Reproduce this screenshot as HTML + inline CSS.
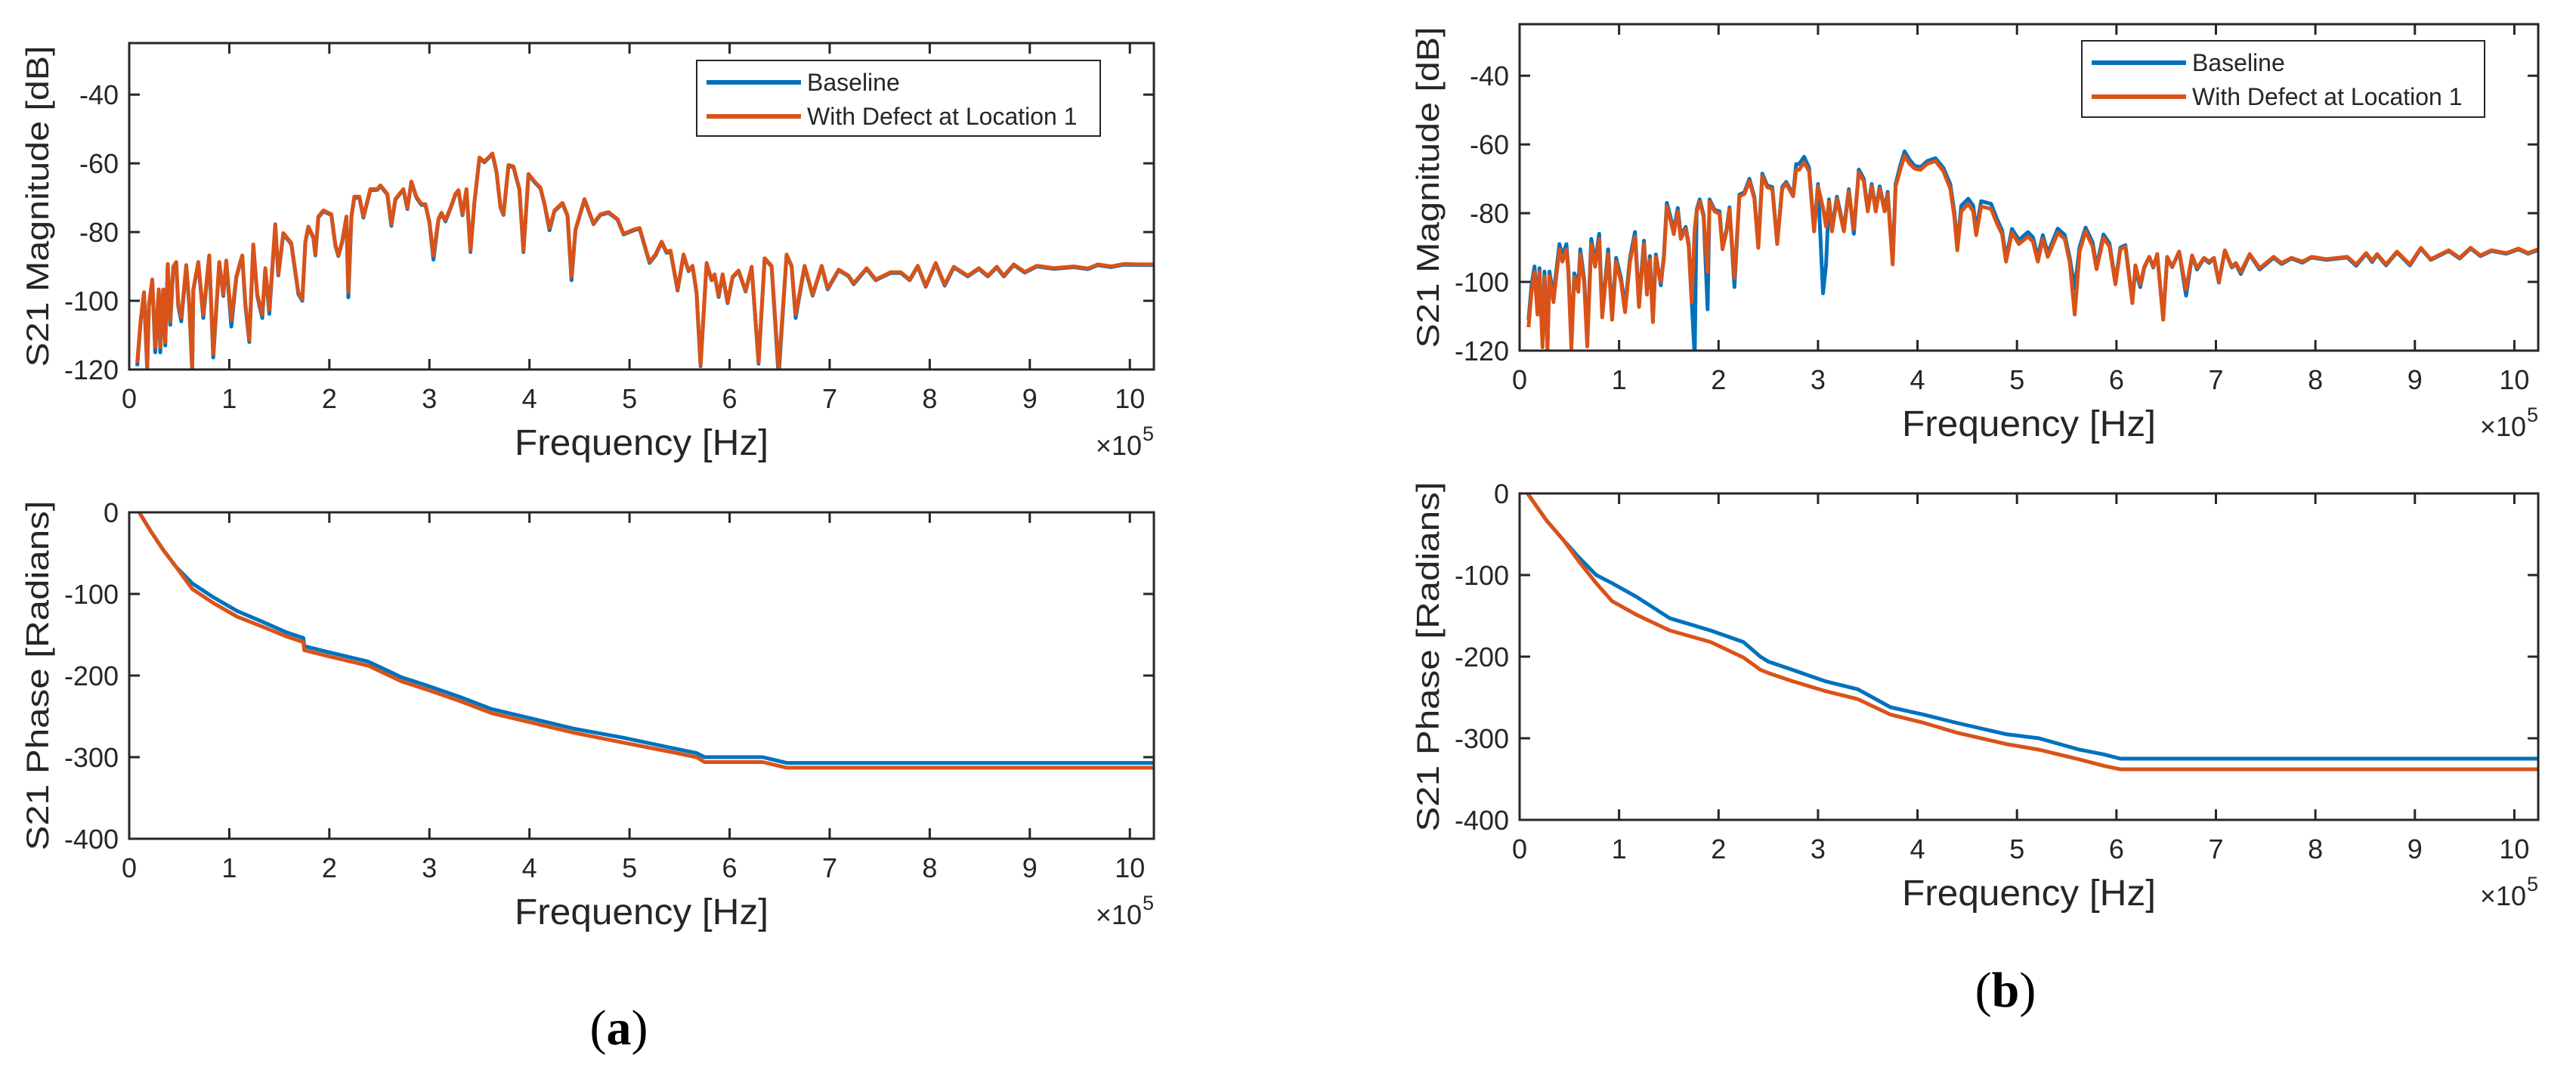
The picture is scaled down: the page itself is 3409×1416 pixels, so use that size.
<!DOCTYPE html>
<html><head><meta charset="utf-8"><style>
html,body{margin:0;padding:0;background:#fff;}
svg{display:block;}
text{font-family:"Liberation Sans",Arial,sans-serif;fill:#262626;}
</style></head><body>
<svg id="fig" width="3409" height="1416" viewBox="0 0 3409 1416" xmlns="http://www.w3.org/2000/svg">
<text x="819" y="1382" text-anchor="middle" style="font-family:'Liberation Serif',serif;font-size:66px;fill:#000">(<tspan font-weight="bold">a</tspan>)</text>
<text x="2654" y="1332" text-anchor="middle" style="font-family:'Liberation Serif',serif;font-size:66px;fill:#000">(<tspan font-weight="bold">b</tspan>)</text>
</svg>
<script>
const xTicks = [0,1,2,3,4,5,6,7,8,9,10];
const magTicks = [-120,-100,-80,-60,-40];
const phaseTicks = [-400,-300,-200,-100,0];

const magA_freq = [.08,.115,.148,.18,.197,.23,.26,.295,.31,.34,.36,.385,.41,.44,.47,.49,.52,.57,.60,.63,.64,.69,.74,.80,.84,.90,.94,.97,1.02,1.07,1.11,1.13,1.16,1.20,1.24,1.28,1.33,1.36,1.40,1.46,1.49,1.54,1.62,1.69,1.73,1.76,1.79,1.84,1.86,1.89,1.94,2.02,2.06,2.09,2.13,2.17,2.19,2.22,2.25,2.30,2.34,2.41,2.48,2.51,2.58,2.62,2.66,2.70,2.74,2.78,2.82,2.87,2.92,2.96,3.0,3.04,3.09,3.12,3.16,3.22,3.26,3.29,3.33,3.37,3.41,3.45,3.50,3.55,3.63,3.67,3.71,3.74,3.79,3.84,3.90,3.94,3.99,4.06,4.11,4.15,4.20,4.25,4.33,4.38,4.42,4.46,4.55,4.64,4.71,4.79,4.88,4.94,5.05,5.10,5.20,5.26,5.32,5.37,5.41,5.48,5.54,5.59,5.63,5.67,5.71,5.77,5.82,5.85,5.89,5.93,5.98,6.03,6.09,6.16,6.22,6.29,6.35,6.42,6.49,6.57,6.62,6.66,6.75,6.83,6.92,6.98,7.09,7.19,7.24,7.37,7.46,7.61,7.71,7.80,7.88,7.96,8.06,8.15,8.24,8.38,8.49,8.58,8.67,8.74,8.84,8.95,9.07,9.24,9.44,9.58,9.68,9.81,9.94,10.11,10.24];
const magA_defect = [-118,-105.5,-97.5,-119.4,-101,-93.8,-113.5,-96.7,-113.5,-96.7,-112,-89.3,-106,-90,-88.7,-101,-104.8,-89.6,-101,-120,-96.7,-88.7,-104,-86.8,-115.4,-88.7,-98.2,-88.3,-105.5,-93,-88.7,-86.8,-100.4,-111.4,-83.6,-98.2,-104,-90.5,-102.6,-77.7,-92.3,-80.3,-83.2,-97.5,-99.6,-82.8,-78.4,-81.4,-86.5,-75.5,-73.7,-74.8,-83.6,-86.8,-82.4,-75.5,-97.5,-75.5,-69.7,-69.7,-75.5,-67.5,-67.5,-66.4,-68.9,-77.7,-70.4,-68.9,-67.5,-73,-65.3,-69.7,-71.9,-71.9,-77,-86.8,-76.2,-74.4,-76.6,-72.2,-68.9,-67.8,-74.8,-67.5,-85.4,-71.1,-58.3,-59.5,-57.1,-62.3,-72.6,-74.8,-60.5,-60.9,-67.5,-85.4,-63.1,-65.6,-67.1,-71.8,-78.8,-73.7,-71.5,-75.1,-93,-79.2,-70.4,-77.5,-74.8,-74.2,-76.2,-80.5,-79.2,-78.8,-88.7,-86.5,-82.8,-85.7,-85.4,-96.7,-86.5,-91.2,-89.8,-97.5,-118.7,-89,-93.8,-92.3,-98.6,-92.3,-100.4,-93,-91.2,-97.1,-90.1,-117.9,-87.6,-89.8,-120,-86.5,-89.8,-104,-89.8,-98.2,-89.8,-96.4,-90.9,-92.7,-94.9,-90.5,-93.8,-91.7,-91.7,-93.8,-89.8,-95.6,-89,-95.3,-90.1,-92.7,-90.5,-92.7,-90.1,-92.7,-89.4,-91.6,-89.8,-90.5,-90,-90.6,-89.4,-90,-89.3,-89.4,-89.4];
const magA_baseline = [-119,-106,-98,-120,-101.5,-94,-115,-97,-115,-97,-113,-89.5,-107,-90.3,-89,-101.5,-106,-90,-101.5,-121,-97,-89,-105,-87,-116.5,-89,-98.6,-88.5,-107.5,-93.3,-89,-87,-101,-112,-84,-98.6,-105,-90.8,-103.8,-78,-92.6,-80.6,-83.5,-98,-100,-83,-78.7,-81.7,-86.8,-75.7,-74,-75,-84,-87,-82.7,-75.8,-99,-75.7,-70,-70,-75.8,-67.8,-67.7,-66.6,-69.1,-78.2,-70.6,-69.1,-67.7,-73.3,-65.5,-70,-72.1,-72.1,-77.3,-88,-76.5,-74.6,-76.9,-72.4,-69.1,-68,-75.1,-67.7,-85.8,-71.3,-58.5,-59.7,-57.3,-62.5,-72.8,-75,-60.7,-61.1,-67.7,-85.8,-63.3,-65.8,-67.3,-72,-79.5,-73.9,-71.7,-75.3,-94,-79.4,-70.6,-77.7,-75,-74.4,-76.4,-80.7,-79.4,-79,-89,-86.8,-83,-86,-85.7,-97,-86.8,-91.4,-90,-97.8,-119,-89.3,-94,-92.5,-98.9,-92.5,-100.7,-93.2,-91.4,-97.3,-90.3,-118.3,-87.8,-90,-122,-86.7,-90,-105,-90,-98.5,-90,-96.7,-91.1,-92.9,-95.2,-90.7,-94,-91.9,-91.9,-94,-90,-95.9,-89.2,-95.6,-90.3,-92.9,-90.7,-92.9,-90.3,-92.9,-89.6,-91.8,-90,-90.7,-90.2,-90.8,-89.6,-90.2,-89.5,-89.6,-89.6];

const magB_freq = [.09,.12,.15,.18,.20,.23,.25,.28,.30,.34,.36,.40,.43,.47,.49,.52,.55,.59,.61,.65,.68,.72,.76,.80,.83,.89,.93,.97,1.02,1.06,1.11,1.16,1.20,1.25,1.28,1.31,1.34,1.37,1.42,1.45,1.48,1.52,1.55,1.59,1.62,1.67,1.70,1.73,1.76,1.78,1.81,1.85,1.89,1.91,1.96,2.01,2.04,2.08,2.11,2.16,2.21,2.26,2.31,2.36,2.40,2.44,2.49,2.54,2.59,2.64,2.68,2.75,2.78,2.81,2.86,2.91,2.96,3.00,3.05,3.08,3.11,3.14,3.19,3.26,3.31,3.36,3.41,3.46,3.50,3.54,3.58,3.62,3.67,3.70,3.75,3.78,3.83,3.87,3.92,3.97,4.03,4.10,4.18,4.26,4.33,4.37,4.40,4.44,4.51,4.56,4.59,4.64,4.74,4.80,4.85,4.89,4.95,5.02,5.11,5.16,5.21,5.26,5.31,5.41,5.48,5.53,5.58,5.63,5.69,5.76,5.80,5.87,5.93,5.99,6.04,6.09,6.16,6.19,6.24,6.28,6.33,6.37,6.41,6.47,6.51,6.56,6.63,6.70,6.76,6.81,6.88,6.93,6.98,7.03,7.09,7.16,7.20,7.25,7.34,7.44,7.58,7.66,7.76,7.87,7.96,8.11,8.32,8.41,8.51,8.57,8.62,8.71,8.82,8.95,9.06,9.16,9.34,9.45,9.56,9.66,9.77,9.92,10.04,10.14,10.24];
const magB_defect = [-113.2,-102.9,-97.1,-109.5,-97.1,-119,-98.5,-119.8,-98.2,-105.9,-100.7,-90.5,-94.1,-90.5,-97.1,-119.4,-98.5,-102.9,-91.9,-100.7,-118.8,-89,-95.6,-87.5,-110.3,-91.9,-111,-94.1,-100,-108.8,-94.1,-86.8,-107.3,-89,-103.7,-93.4,-111.7,-92.7,-100,-93.4,-78,-82.4,-86.1,-79.5,-87.5,-84.6,-89.7,-105.9,-84.6,-79.5,-76.6,-81,-97.1,-76.6,-79.5,-80.2,-90.5,-85.3,-78.8,-98.9,-75.1,-74.4,-70.7,-75.8,-90.1,-69.2,-72.5,-72.9,-89,-72.9,-71.4,-75.1,-67.4,-67.4,-65.2,-67.8,-85.3,-72.2,-78.4,-83.9,-76.6,-85.3,-75.8,-85.3,-73.6,-84.6,-68.1,-70.7,-79.5,-72.2,-79.5,-72.9,-79.5,-74.4,-94.9,-72.2,-67,-63.4,-65.6,-67,-67.4,-65.6,-64.8,-67.8,-72.9,-81,-90.8,-79.5,-77.3,-79.5,-86.4,-78,-78.8,-83.1,-86.1,-94.1,-85.7,-89,-86.8,-88.3,-94.1,-87.5,-92.7,-85.7,-87.5,-94.1,-109.5,-91.2,-85.3,-89.7,-96.3,-87.2,-89.7,-100.7,-90.5,-89.7,-106.2,-95.2,-100.7,-95.6,-92.7,-95.6,-91.9,-111,-92.7,-95.6,-91.2,-102.2,-92.3,-96,-93,-94.1,-93,-100,-90.8,-95.6,-94.5,-97.1,-91.9,-96,-92.7,-94.5,-93,-94.1,-92.7,-93.4,-92.7,-94.9,-91.6,-93.8,-91.9,-94.9,-91.2,-94.9,-90.1,-93.4,-90.8,-93,-90.1,-92.3,-90.8,-91.6,-90.3,-91.6,-90.5];
const magB_baseline = [-111,-101,-95.5,-108,-96,-118,-97,-119,-97,-104,-99,-89,-92.5,-89,-96,-118,-97.5,-101,-90.5,-99.5,-117,-87.5,-94.5,-86,-109,-90.5,-110,-93,-99,-107.5,-93,-85.5,-106,-88,-102.5,-92.5,-110.5,-92,-101,-92.5,-77,-81.5,-85,-78.5,-86.5,-84,-89,-105.5,-122,-79,-76,-80.5,-108,-76,-79,-79.5,-90,-84.8,-78.3,-101.5,-74.6,-73.9,-70,-75.3,-89.6,-68.5,-72,-72.4,-88.5,-72.4,-70.9,-74.6,-65.7,-65.7,-63.6,-66.8,-85,-71.5,-103.3,-95.2,-76,-84.5,-75.2,-84.5,-73,-86,-67.3,-70,-79,-71.5,-79,-72.2,-79,-73.8,-94,-71.5,-65.8,-62,-64.4,-66.2,-66.6,-64.8,-64,-66.8,-71.6,-79.6,-89.5,-77.8,-75.8,-77.8,-85,-76.5,-77.3,-81.8,-85,-93.2,-84.6,-87.8,-85.5,-87,-92.8,-86.4,-91.6,-84.5,-86.3,-93,-102,-89.8,-84.2,-88.5,-95.5,-86.2,-88.8,-100,-90,-89.3,-105.5,-96.5,-101.5,-95.9,-92.7,-95.8,-92,-110.5,-92.9,-95.7,-91.2,-104,-92.5,-96.4,-93.2,-94.5,-93.2,-100.2,-91,-95.8,-94.8,-97.7,-92.1,-96.4,-93,-94.8,-93.2,-94.4,-92.9,-93.6,-92.9,-95.3,-91.8,-94.2,-92.1,-95.2,-91.4,-95.2,-90.3,-93.6,-91,-93.2,-90.3,-92.5,-91,-91.8,-90.5,-91.8,-90.7];

const phaseA_freq = [.1,.22,.34,.47,.63,.84,1.08,1.33,1.57,1.74,1.75,1.98,2.39,2.72,2.97,3.30,3.62,4.03,4.44,4.93,5.43,5.67,5.75,6.33,6.57,10.24];
const phaseA_defect = [0,-24,-46,-67,-94,-111,-128,-140,-152,-159,-169,-176,-188,-207,-217,-231,-246,-258,-270,-282,-294,-300,-306,-306,-313,-313];
const phaseA_baseline = [0,-24,-46,-67,-87,-104,-121,-134,-147,-154,-164,-171,-183,-202,-212,-226,-241,-253,-265,-276,-289,-295,-300,-300,-307,-307];

const phaseB_freq = [.08,.27,.44,.60,.77,.93,1.18,1.51,1.92,2.25,2.42,2.50,2.74,3.07,3.40,3.73,4.06,4.39,4.89,5.22,5.63,5.88,6.04,10.24];
const phaseB_defect = [0,-33,-57,-84,-110,-132,-149,-168,-182,-201,-216,-220,-230,-242,-252,-271,-281,-293,-307,-314,-326,-334,-338,-338];
const phaseB_baseline = [0,-33,-57,-79,-100,-110,-127,-153,-168,-182,-200,-206,-216,-230,-240,-262,-271,-281,-295,-300,-314,-320,-325,-325];

const NS = 'http://www.w3.org/2000/svg';
const svg = document.getElementById('fig');
const AX = '#262626', BLUE = '#0072BD', ORANGE = '#D95319';
let clipId = 0;

function mk(tag, attrs, parent) {
  const e = document.createElementNS(NS, tag);
  for (const k in attrs) e.setAttribute(k, attrs[k]);
  (parent || svg).appendChild(e);
  return e;
}

function drawPanel(p) {
  const g = mk('g', {});
  
  
  const xs = f => p.L + (f - 0) / 10.24 * (p.R - p.L);
  const ys = v => p.B - (v - p.ymin) / (p.ymax - p.ymin) * (p.B - p.T);
  clipId++;
  const cp = mk('clipPath', {id: 'c' + clipId}, g);
  mk('rect', {x: p.L, y: p.T, width: p.R - p.L, height: p.B - p.T}, cp);
  const series = [[p.baseline, BLUE, 'baseline-line'], [p.defect, ORANGE, 'defect-line']];
  for (const s of series) {
    let d = '';
    const n = Math.min(p.freq.length, s[0].length);
    for (let i = 0; i < n; i++) d += (i ? 'L' : 'M') + xs(p.freq[i]).toFixed(1) + ' ' + ys(s[0][i]).toFixed(1);
    const path = mk('path', {d: d, fill: 'none', stroke: s[1], 'stroke-width': 5, 'stroke-linejoin': 'round', 'clip-path': 'url(#c' + clipId + ')'}, g);
    
    
  }
  for (const t of xTicks) {
    const x = xs(t);
    mk('line', {x1: x, x2: x, y1: p.B, y2: p.B - 14, stroke: AX, 'stroke-width': 3}, g);
    mk('line', {x1: x, x2: x, y1: p.T, y2: p.T + 14, stroke: AX, 'stroke-width': 3}, g);
    const tl = mk('text', {x: x, y: p.B + 51, 'text-anchor': 'middle', 'font-size': 36}, g);
    tl.textContent = t;
    
    
  }
  for (const t of p.yTicks) {
    const y = ys(t);
    mk('line', {x1: p.L, x2: p.L + 14, y1: y, y2: y, stroke: AX, 'stroke-width': 3}, g);
    mk('line', {x1: p.R, x2: p.R - 14, y1: y, y2: y, stroke: AX, 'stroke-width': 3}, g);
    const tl = mk('text', {x: p.L - 14, y: y + 13, 'text-anchor': 'end', 'font-size': 36}, g);
    tl.textContent = t;
    
    
  }
  const frame = mk('rect', {x: p.L, y: p.T, width: p.R - p.L, height: p.B - p.T, fill: 'none', stroke: AX, 'stroke-width': 3}, g);
  
  
  const xl = mk('text', {x: (p.L + p.R) / 2, y: p.B + 113, 'text-anchor': 'middle', 'font-size': 48, textLength: 336, lengthAdjust: 'spacingAndGlyphs'}, g);
  xl.textContent = 'Frequency [Hz]';
  
  
  const ex = mk('text', {x: p.R - 16, y: p.B + 113, 'text-anchor': 'end', 'font-size': 36}, g);
  ex.textContent = '×10';
  
  
  const ex5 = mk('text', {x: p.R - 15, y: p.B + 94, 'font-size': 27}, g);
  ex5.textContent = '5';
  
  
  const cy = (p.T + p.B) / 2, cx = p.L - 122;
  const yl = mk('text', {x: cx, y: cy + 15, 'text-anchor': 'middle', 'font-size': 42, transform: 'rotate(-90 ' + cx + ' ' + cy + ')', textLength: p.ylen, lengthAdjust: 'spacingAndGlyphs'}, g);
  yl.textContent = p.ylabel;
  
  
  if (p.legend) {
    const lg = mk('g', {}, g);
    
    
    const b = p.legend;
    mk('rect', {x: b[0], y: b[1], width: b[2] - b[0], height: b[3] - b[1], fill: '#fff', stroke: AX, 'stroke-width': 2}, lg);
    const items = [['Baseline', BLUE, 29], ['With Defect at Location 1', ORANGE, 74]];
    for (const it of items) {
      const ln = mk('line', {x1: b[0] + 13, x2: b[0] + 138, y1: b[1] + it[2], y2: b[1] + it[2], stroke: it[1], 'stroke-width': 6}, lg);
      
      
      const tx = mk('text', {x: b[0] + 146, y: b[1] + it[2] + 11, 'font-size': 32, fill: '#000'}, lg);
      tx.textContent = it[0];
      
      
    }
  }
}

drawPanel({name: 'magnitude-chart-a', L: 171, R: 1527, T: 57, B: 489, ymin: -120, ymax: -25, yTicks: magTicks, freq: magA_freq, defect: magA_defect, baseline: magA_baseline, ylabel: 'S21 Magnitude [dB]', ylen: 425, legend: [922, 80, 1456, 180]});
drawPanel({name: 'phase-chart-a', L: 171, R: 1527, T: 678, B: 1110, ymin: -400, ymax: 0, yTicks: phaseTicks, freq: phaseA_freq, defect: phaseA_defect, baseline: phaseA_baseline, ylabel: 'S21 Phase [Radians]', ylen: 463});
drawPanel({name: 'magnitude-chart-b', L: 2011, R: 3359, T: 32, B: 464, ymin: -120, ymax: -25, yTicks: magTicks, freq: magB_freq, defect: magB_defect, baseline: magB_baseline, ylabel: 'S21 Magnitude [dB]', ylen: 425, legend: [2755, 54, 3288, 155]});
drawPanel({name: 'phase-chart-b', L: 2011, R: 3359, T: 653, B: 1085, ymin: -400, ymax: 0, yTicks: phaseTicks, freq: phaseB_freq, defect: phaseB_defect, baseline: phaseB_baseline, ylabel: 'S21 Phase [Radians]', ylen: 463});
</script>
</body></html>
